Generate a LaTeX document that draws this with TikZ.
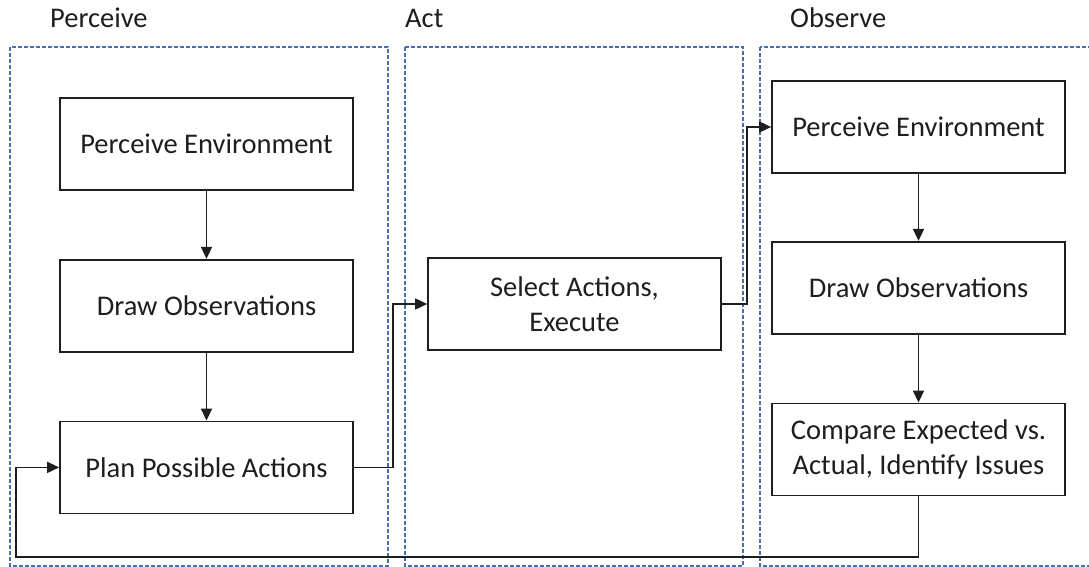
\documentclass[tikz,border=0pt]{standalone}
\usepackage{fontspec}
\setmainfont{Carlito}
\usetikzlibrary{arrows.meta, positioning}
\definecolor{laneBlue}{HTML}{4A6DAE}
\definecolor{lineGrey}{HTML}{1E1E1E}

\begin{document}
\begin{tikzpicture}[
            x=1pt, y=-1pt,
            every node/.style={font=\fontsize{28.5}{35}\selectfont, text=lineGrey},
            lane/.style={draw=laneBlue, line width=1.1pt, dash pattern=on 4pt off 2pt},
            lanetitle/.style={anchor=base west, inner sep=0pt},
            stepbox/.style={rectangle, draw=lineGrey, line width=1.7pt, minimum width=293pt, minimum height=92pt, align=center, inner sep=2pt},
            arrow/.style={-{Triangle[length=12pt, width=11pt]}, line width=1.7pt, color=lineGrey}
        ]
            \useasboundingbox (0,0) rectangle (1089,567);

            % Lanes
            \draw[lane] (10,47) rectangle (388,566);
            \draw[lane] (405,47) rectangle (743,566);
            \draw[lane] (760,47) rectangle (1100,566);
            \node[lanetitle] (tperceive) at (50,28) {Perceive};
            \node[lanetitle] (tact) at (405,28) {Act};
            \node[lanetitle] (tobserve) at (790,28) {Observe};

            % Nodes
            \node[stepbox] (perceive) at (206.5,144) {Perceive Environment};
            \node[stepbox, below=68pt of perceive] (observe) {Draw Observations};
            \node[stepbox, below=68pt of observe] (plan) {Plan Possible Actions};
            \node[stepbox] (select) at (574.5,304) {Select Actions,\\ Execute};
            \node[stepbox] (perceive2) at (918.5,127) {Perceive Environment};
            \node[stepbox, below=67pt of perceive2] (observe2) {Draw Observations};
            \node[stepbox, below=68pt of observe2] (compare) {Compare Expected vs.\\ Actual, Identify Issues};

            % Arrows
            \draw[arrow] (perceive) -- (observe);
            \draw[arrow] (observe) -- (plan);
            \draw[arrow] (plan.east) -- ++(39,0) |- (select.west);
            \draw[arrow] (select.east) -- ++(25,0) |- (perceive2.west);
            \draw[arrow] (perceive2) -- (observe2);
            \draw[arrow] (observe2) -- (compare);
            \draw[arrow] (compare.south) -- ++(0,61) -| ([xshift=-43pt]plan.west) -- (plan.west);
        \end{tikzpicture}
\end{document}
